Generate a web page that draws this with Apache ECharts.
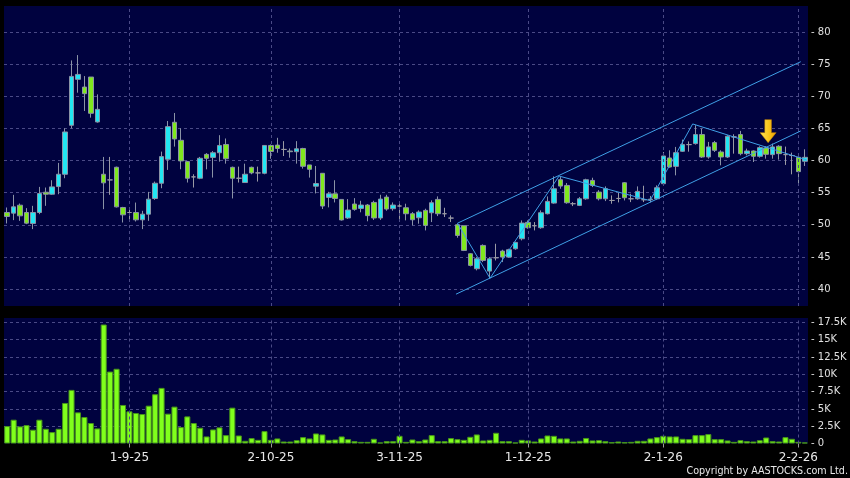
<!DOCTYPE html>
<html><head><meta charset="utf-8">
<script src="https://cdn.jsdelivr.net/npm/echarts@6/dist/echarts.min.js"></script>
<style>html,body{margin:0;padding:0;background:#000;}#c{width:850px;height:478px;}</style>
</head><body><div id="c"></div>
<script>
// Trading days (D-M-YY)
const aug25 = [5,6,7,8,11,12,13,14,15,18,19,20,21,22,25,26,27,28,29];
const sep25 = [1,2,3,4,5,8,9,10,11,12,15,16,17,18,19,22,23,24,25,26,29,30];
const oct25 = [2,3,6,8,9,10,13,14,15,16,17,20,21,22,23,24,27,28,30,31];
const nov25 = [3,4,5,6,7,10,11,12,13,14,17,18,19,20,21,24,25,26,27,28];
const dec25 = [1,2,3,4,5,8,9,10,11,12,15,16,17,18,19,22,23,24,29,30,31];
const jan26 = [2,5,6,7,8,9,12,13,14,15,16,19,20,21,22,23,26,27,28,29,30];
const feb26 = [2,3];
const dates = [].concat(
  aug25.map(d => d + '-8-25'), sep25.map(d => d + '-9-25'), oct25.map(d => d + '-10-25'),
  nov25.map(d => d + '-11-25'), dec25.map(d => d + '-12-25'), jan26.map(d => d + '-1-26'),
  feb26.map(d => d + '-2-26'));

const dateTickLabels = ['1-9-25','2-10-25','3-11-25','1-12-25','2-1-26','2-2-26'];

const opens = [51.92,51.82,53.06,51.92,50.21,51.92,55.08,54.77,55.96,57.88,65.51,72.67,71.47,73.03,66.03,57.88,57.00,58.97,52.70,51.92,
51.92,50.78,51.66,54.10,56.48,60.22,65.98,63.17,59.85,57.47,57.26,60.98,60.51,61.23,62.52,58.96,57.26,56.59,58.96,58.09,
58.03,62.37,62.42,61.75,61.50,61.39,61.90,59.33,56.02,58.03,54.27,54.83,53.96,51.07,53.24,52.56,53.08,53.49,51.07,54.32,
52.51,52.93,52.66,51.73,51.10,52.25,51.88,53.96,51.73,51.05,50.01,49.86,45.49,43.16,46.79,42.79,44.87,45.91,44.97,46.27,
47.83,50.38,49.86,49.55,51.73,53.39,57.03,56.14,53.29,53.03,54.06,56.92,55.10,54.06,53.80,54.11,56.56,54.06,54.06,53.91,
54.00,54.06,56.41,60.42,59.11,61.46,62.50,62.66,64.06,60.57,62.81,61.35,60.57,63.70,64.06,61.09,61.51,60.68,61.98,60.94,
62.24,60.94,60.80,60.52,59.90];
const closes = [51.30,52.80,51.40,50.26,51.92,54.88,54.77,55.91,57.88,64.47,73.13,73.44,70.44,67.38,68.00,56.54,57.00,52.80,51.56,51.92,
50.78,51.66,54.00,56.48,60.63,65.30,63.38,59.96,57.26,57.47,60.37,60.36,61.23,62.37,60.30,57.26,57.26,57.88,58.09,58.09,
62.37,61.44,61.90,61.75,61.39,61.85,59.12,58.65,56.43,52.93,54.83,54.11,50.76,52.31,52.41,53.08,51.43,51.07,54.01,52.46,
53.08,52.93,51.73,50.79,51.99,49.91,53.44,51.73,51.73,51.05,48.35,46.01,43.68,44.71,44.45,44.71,44.87,44.97,46.12,47.26,
50.27,49.55,49.86,51.88,53.65,55.62,56.04,53.44,53.29,54.06,57.03,56.14,54.06,55.63,53.80,54.11,54.22,54.06,55.21,53.91,
53.90,55.78,60.73,59.01,61.25,62.50,62.50,64.06,60.57,62.14,61.61,60.57,63.80,63.70,61.09,61.51,60.68,62.03,60.99,62.14,
61.09,60.94,60.80,58.29,60.52];
const lows = [50.21,50.73,50.62,50.10,49.33,51.66,52.96,54.67,54.77,57.26,65.04,70.59,67.74,66.70,65.92,52.44,54.67,52.70,50.36,50.62,
50.52,49.33,50.62,53.89,55.70,58.56,62.19,58.66,56.59,55.81,57.11,58.65,57.36,59.84,59.53,54.11,56.59,56.54,57.88,56.74,
57.88,60.30,61.23,60.72,60.46,59.53,58.76,57.36,54.89,52.46,52.72,53.49,50.66,50.91,52.20,51.95,50.55,50.76,50.76,52.20,
52.20,50.91,50.69,49.91,50.17,49.13,50.43,51.36,51.21,50.43,47.99,45.91,43.52,42.90,44.19,41.60,44.45,44.19,44.87,46.12,
47.57,49.39,49.13,49.39,51.62,53.29,55.62,53.29,52.92,52.92,53.91,55.88,53.80,53.70,53.28,53.50,53.80,53.54,53.91,53.54,
53.50,53.91,56.15,58.91,57.71,61.35,61.40,62.50,60.42,60.31,61.35,59.27,60.42,61.09,60.83,60.83,59.79,60.47,60.31,60.31,
60.16,59.33,57.87,56.21,59.17];
const highs = [52.70,54.67,53.32,52.60,52.96,55.91,55.81,56.95,59.65,65.04,75.62,76.45,73.18,73.03,70.33,60.58,60.58,59.07,52.80,52.70,
53.47,52.18,55.13,56.74,61.41,66.18,67.43,65.04,59.96,57.88,60.58,61.18,61.49,63.97,63.45,59.07,59.07,59.53,59.07,59.07,
62.42,62.52,63.56,63.04,61.90,63.04,62.00,59.33,59.17,58.03,55.14,56.95,53.96,54.01,54.16,53.75,53.24,53.75,54.68,54.68,
53.49,53.24,53.29,51.99,52.25,52.51,53.81,54.43,52.66,51.47,50.17,49.86,45.60,44.97,46.95,44.97,47.05,46.12,46.27,47.36,
50.69,50.69,50.43,52.25,54.43,57.55,57.44,56.51,53.55,54.32,57.18,57.34,55.40,55.99,54.58,55.00,56.67,54.84,55.99,56.09,
54.50,56.15,61.35,61.61,62.14,63.28,63.00,65.52,65.00,62.92,63.07,61.61,63.96,64.11,64.64,61.87,61.61,62.24,62.24,62.66,
62.40,62.19,61.25,60.63,61.77];

// Volume in thousands of shares
const volumes = [2.52,3.44,2.47,2.66,1.99,3.44,2.13,1.65,2.13,5.86,7.75,4.5,3.83,2.96,2.18,17.2,10.4,10.8,5.57,4.65,
4.41,4.26,5.47,7.12,8.04,4.31,5.33,2.37,3.92,2.96,2.28,1.02,2.03,2.33,1.21,5.18,1.16,0.39,0.78,0.53,
1.79,0.53,0.73,0.29,0.29,0.48,0.92,0.73,1.45,1.31,0.53,0.58,1.02,0.63,0.34,0.24,0.24,0.68,0.15,0.34,
0.34,1.11,0.24,0.58,0.34,0.58,1.21,0.34,0.34,0.78,0.63,0.53,0.97,1.31,0.44,0.53,1.55,0.34,0.34,0.15,
0.53,0.44,0.29,0.73,1.16,1.11,0.73,0.73,0.29,0.39,0.8,0.44,0.48,0.34,0.19,0.29,0.19,0.24,0.39,0.39,
0.73,0.92,1.11,1.02,1.02,0.68,0.63,1.21,1.21,1.36,0.63,0.63,0.44,0.24,0.48,0.34,0.29,0.48,0.87,0.34,
0.29,0.92,0.68,0.24,0.15];

// Trend lines (x = trading-day position, y = price)
const upperChannel = [[70.0, 50.25], [123.37, 75.42]];
const lowerChannel = [[69.77, 39.19], [123.37, 64.63]];
const zigzag = [[70.0, 50.25], [75.06, 41.68], [85.8, 57.6], [99.94, 53.77], [106.57, 65.72], [124.3, 60.11]];
const arrowPoint = [118.3, 64.6];

const tickIdx = dateTickLabels.map(l => dates.indexOf(l));
const tickSet = new Set(tickIdx);
const candleData = opens.map((o, i) => [o, closes[i], lows[i], highs[i]]);

const FONT = 'DejaVu Sans';
const gridLineStyle = { color: '#4a4a86', type: [3, 3], width: 1 };
const vLines = tickIdx.map(i => ({ xAxis: i }));
const lineColor = '#3f9fe6';

const chart = echarts.init(document.getElementById('c'), null, { renderer: 'canvas' });
chart.setOption({
  backgroundColor: '#000',
  animation: false,
  grid: [
    { left: 4, top: 6, width: 804, height: 300, show: true, backgroundColor: '#00023f', borderWidth: 0 },
    { left: 4, top: 318, width: 804, height: 125.5, show: true, backgroundColor: '#00023f', borderWidth: 0 }
  ],
  xAxis: [
    { type: 'category', gridIndex: 0, data: dates, boundaryGap: true,
      axisLine: { show: false }, axisTick: { show: false }, axisLabel: { show: false }, splitLine: { show: false } },
    { type: 'category', gridIndex: 1, data: dates, boundaryGap: true,
      axisLine: { show: false },
      axisTick: { show: true, alignWithLabel: true, length: 4, interval: (i) => tickSet.has(i), lineStyle: { color: '#9a9a9a' } },
      axisLabel: { interval: (i) => tickSet.has(i), color: '#e8e8e8', fontSize: 12, fontFamily: FONT, margin: 8 },
      splitLine: { show: false } },
    { type: 'value', gridIndex: 0, min: -0.5, max: dates.length - 0.5, show: false }
  ],
  yAxis: [
    { type: 'value', gridIndex: 0, position: 'right', min: 37.35, max: 84.1, splitNumber: 9,
      axisLine: { show: false }, axisTick: { show: false },
      axisLabel: { color: '#e0e0e0', fontSize: 10, fontFamily: FONT, margin: 3,
        formatter: v => (Math.abs(v - Math.round(v / 5) * 5) < 1e-6 ? '- ' + Math.round(v) : '') },
      splitLine: { show: true, showMinLine: false, showMaxLine: false, lineStyle: gridLineStyle } },
    { type: 'value', gridIndex: 1, position: 'right', min: 0, max: 18.14, interval: 2.5,
      axisLine: { show: false }, axisTick: { show: false },
      axisLabel: { color: '#e0e0e0', fontSize: 10, fontFamily: FONT, margin: 3, showMaxLabel: false,
        formatter: v => (v > 18 ? '' : '- ' + (v === 0 ? '0' : v + 'K')) },
      splitLine: { show: true, showMinLine: false, showMaxLine: false, lineStyle: gridLineStyle } }
  ],
  series: [
    { type: 'candlestick', xAxisIndex: 0, yAxisIndex: 0, data: candleData, barWidth: 5,
      itemStyle: { color: '#22e6f2', color0: '#80e81e', borderColor: '#8a93a6', borderColor0: '#8a93a6',
        borderColorDoji: '#9a9aa4', borderWidth: 1 },
      markLine: { silent: true, symbol: 'none', label: { show: false }, lineStyle: gridLineStyle, data: vLines, animation: false } },
    { type: 'bar', xAxisIndex: 1, yAxisIndex: 1, data: volumes, barWidth: '94%',
      itemStyle: { color: '#80ff1c', borderColor: '#48961a', borderWidth: 1 },
      markLine: { silent: true, symbol: 'none', label: { show: false }, lineStyle: gridLineStyle, data: vLines, animation: false } },
    { type: 'line', xAxisIndex: 2, yAxisIndex: 0, data: upperChannel, symbol: 'none', z: 5,
      lineStyle: { color: lineColor, width: 1 } },
    { type: 'line', xAxisIndex: 2, yAxisIndex: 0, data: lowerChannel, symbol: 'none', z: 5,
      lineStyle: { color: lineColor, width: 1 } },
    { type: 'line', xAxisIndex: 2, yAxisIndex: 0, data: zigzag, symbol: 'none', z: 5,
      lineStyle: { color: lineColor, width: 1 },
      markPoint: { silent: true, animation: false, label: { show: false },
        data: [{ coord: arrowPoint,
          symbol: 'path://M4.7,0 L11.3,0 L11.3,13 L16,13 L8,23 L0,13 L4.7,13 Z',
          symbolSize: [16, 23], symbolKeepAspect: false,
          itemStyle: { color: { type: 'linear', x: 0, y: 0, x2: 1, y2: 0,
            colorStops: [{ offset: 0, color: '#ffe458' }, { offset: 0.55, color: '#f8c41a' }, { offset: 1, color: '#e89c00' }] },
            borderColor: '#c98600', borderWidth: 0.5 } }] } }
  ],
  graphic: [
    { type: 'text', right: 2, top: 466,
      style: { text: 'Copyright by AASTOCKS.com Ltd.', fill: '#e8e8e8', font: '9.6px "DejaVu Sans"' } }
  ]
});
</script>
</body></html>
